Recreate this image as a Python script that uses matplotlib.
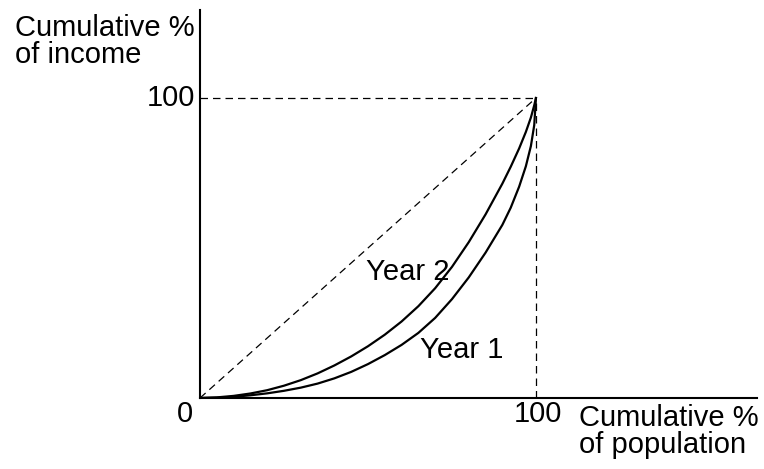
import matplotlib.pyplot as plt

plt.rcParams['font.family'] = ['Liberation Sans', 'DejaVu Sans']

# Lorenz curves (cumulative % population, cumulative % income)
pop = [0, 5, 10, 15, 20, 25, 30, 35, 40, 45, 50, 55, 60, 65, 70, 75, 80, 85, 90, 92.5, 95, 97, 98.5, 99.5, 100]
year2 = [0, 0.2, 0.7, 1.5, 2.6, 4.1, 5.95, 8.2, 10.85, 13.85, 17.25, 21.1, 25.5, 30.6, 36.6, 43.7, 51.95, 61.2,
         71.45, 77.1, 83.2, 88.7, 93.5, 97.6, 100]
year1 = [0, 0.1, 0.4, 0.9, 1.55, 2.4, 3.45, 4.8, 6.55, 8.7, 11.3, 14.3, 17.7, 21.7, 26.7, 32.95, 40.2, 48.45,
         57.7, 63.45, 70.45, 77.25, 84.0, 91.0, 100]

fig = plt.figure(figsize=(7.64, 4.69), dpi=100)
ax = fig.add_axes([0.2618, 0.1514, 0.729, 0.827])
ax.set_xlim(0, 165.8)
ax.set_ylim(0, 129.3)

for s in ['top', 'right']:
    ax.spines[s].set_visible(False)
ax.spines['left'].set_linewidth(1.5)
ax.spines['bottom'].set_linewidth(1.5)
ax.set_xticks([])
ax.set_yticks([])

dash = (0, (6, 4))
ax.plot([0, 100], [0, 100], color='black', lw=0.9, linestyle=dash)
ax.plot([0, 100], [100, 100], color='black', lw=0.9, linestyle=dash)
ax.plot([100, 100], [0, 100], color='black', lw=0.9, linestyle=dash)

ax.plot(pop, year2, color='black', lw=1.6, solid_joinstyle='round')
ax.plot(pop, year1, color='black', lw=1.6, solid_joinstyle='round')

fs = 21
ax.text(49.5, 42, 'Year 2', fontsize=fs, ha='left', va='center')
ax.text(65.5, 16, 'Year 1', fontsize=fs, ha='left', va='center')

ax.text(-1.5, 100, '100', fontsize=fs, ha='right', va='center', clip_on=False)
ax.text(-4.5, -5.5, '0', fontsize=fs, ha='center', va='center', clip_on=False)
ax.text(100.6, -5.5, '100', fontsize=fs, ha='center', va='center', clip_on=False)

fig.text(15 / 764, 1 - 14 / 469, 'Cumulative %\nof income', fontsize=fs,
         ha='left', va='top', linespacing=0.95)
fig.text(579 / 764, 1 - 404 / 469, 'Cumulative %\nof population', fontsize=fs,
         ha='left', va='top', linespacing=0.95)

fig.savefig('out.png', dpi=100)
